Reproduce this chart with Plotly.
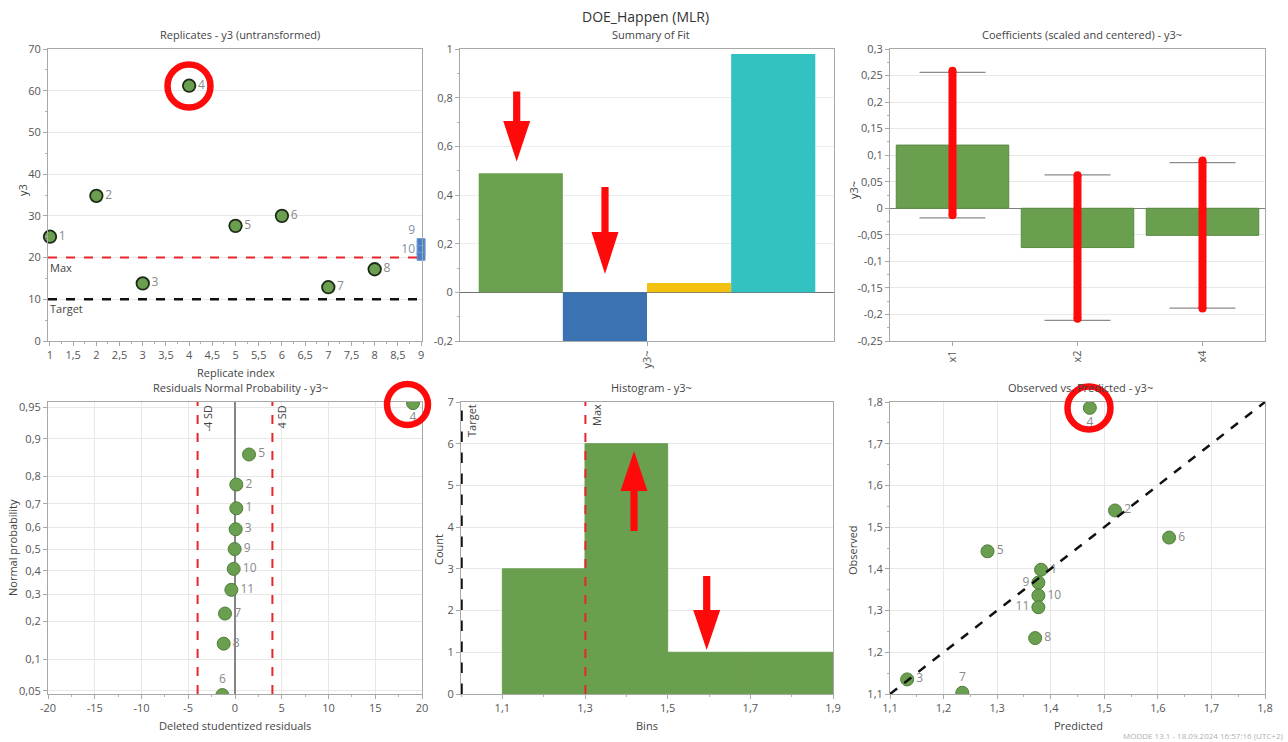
import plotly.graph_objects as go
from statistics import NormalDist

W, H = 1288, 742

# ---------------- data ----------------
# Replicates - y3 (untransformed)
rep_index = [1, 2, 3, 4, 5, 6, 7, 8]
rep_y3 = [25.0, 34.8, 13.8, 61.2, 27.6, 30.0, 12.9, 17.2]
rep_text = ["1", "2", "3", "4", "5", "6", "7", "8"]
rep_center_index = [9, 9, 9]
rep_center_y3 = [23.6, 21.9, 20.3]
rep_center_text = ["9", "10", ""]
rep_center_pos = ["top left", "middle left", "middle left"]
y3_max_level = 20
y3_target_level = 10
rep_x_ticks = [1, 1.5, 2, 2.5, 3, 3.5, 4, 4.5, 5, 5.5, 6, 6.5, 7, 7.5, 8, 8.5, 9]
rep_x_ticktext = ["1", "1,5", "2", "2,5", "3", "3,5", "4", "4,5", "5", "5,5",
                  "6", "6,5", "7", "7,5", "8", "8,5", "9"]
rep_y_ticks = [0, 10, 20, 30, 40, 50, 60, 70]
rep_y_ticktext = ["0", "10", "20", "30", "40", "50", "60", "70"]

# Summary of Fit
fit_category = ["y3~"]
fit_names = ["R2", "Q2", "Model validity", "Reproducibility"]
fit_values = [0.489, -0.2, 0.038, 0.979]
fit_colors = ["#6aa050", "#3a72b2", "#f3c211", "#33c2c2"]
fit_y_ticks = [-0.2, 0, 0.2, 0.4, 0.6, 0.8, 1]
fit_y_ticktext = ["-0,2", "0", "0,2", "0,4", "0,6", "0,8", "1"]

# Coefficients (scaled and centered)
coef_terms = ["x1", "x2", "x4"]
coef_values = [0.119, -0.074, -0.051]
coef_ci = [0.137, 0.137, 0.137]
coef_mark_low = [-0.013, -0.208, -0.189]
coef_mark_high = [0.259, 0.062, 0.090]
coef_y_ticks = [-0.25, -0.2, -0.15, -0.1, -0.05, 0, 0.05, 0.1, 0.15, 0.2, 0.25, 0.3]
coef_y_ticktext = ["-0,25", "-0,2", "-0,15", "-0,1", "-0,05", "0", "0,05", "0,1",
                   "0,15", "0,2", "0,25", "0,3"]

# Residuals normal probability
np_text = ["6", "8", "7", "11", "10", "9", "3", "1", "2", "5", "4"]
np_resid = [-1.35, -1.21, -1.07, -0.39, -0.14, -0.04, 0.07, 0.14, 0.14, 1.5, 19.04]
np_prob = [0.045, 0.136, 0.227, 0.318, 0.409, 0.5, 0.591, 0.682, 0.773, 0.864, 0.955]
np_textpos = ["top center", "middle right", "middle right", "middle right", "middle right",
              "middle right", "middle right", "middle right", "middle right", "middle right",
              "bottom center"]
sd_low, sd_high = -4, 4
np_x_ticks = [-20, -15, -10, -5, 0, 5, 10, 15, 20]
np_x_ticktext = ["-20", "-15", "-10", "-5", "0", "5", "10", "15", "20"]
np_p_ticks = [0.05, 0.1, 0.2, 0.3, 0.4, 0.5, 0.6, 0.7, 0.8, 0.9, 0.95]
np_p_ticktext = ["0,05", "0,1", "0,2", "0,3", "0,4", "0,5", "0,6", "0,7", "0,8", "0,9", "0,95"]

# Histogram
hist_bin_start = [1.1, 1.3, 1.5, 1.7]
hist_bin_width = [0.2, 0.2, 0.2, 0.2]
hist_counts = [3, 6, 1, 1]
hist_target = 1.0
hist_max = 1.301
hist_x_ticks = [1.1, 1.3, 1.5, 1.7, 1.9]
hist_x_ticktext = ["1,1", "1,3", "1,5", "1,7", "1,9"]
hist_y_ticks = [0, 1, 2, 3, 4, 5, 6, 7]

# Observed vs Predicted
op_text = ["1", "2", "3", "4", "5", "6", "7", "8", "9", "10", "11"]
op_pred = [1.382, 1.520, 1.132, 1.473, 1.282, 1.621, 1.235, 1.371, 1.377, 1.377, 1.377]
op_obs = [1.398, 1.540, 1.135, 1.786, 1.442, 1.475, 1.103, 1.234, 1.367, 1.336, 1.308]
op_textpos = ["middle right", "middle right", "middle right", "bottom center", "middle right",
              "middle right", "top center", "middle right", "middle left", "middle right",
              "middle left"]
op_ticks = [1.1, 1.2, 1.3, 1.4, 1.5, 1.6, 1.7, 1.8]
op_ticktext = ["1,1", "1,2", "1,3", "1,4", "1,5", "1,6", "1,7", "1,8"]

# ---------------- helpers ----------------
FONT = "Segoe UI, Open Sans, sans-serif"
GREEN = "#6a9f4f"
LABEL_GRAY = "#8a8a8a"
RED = "#ff0a0a"


def px(x):
    return x / W


def py(y):
    return 1 - y / H


def dom_x(a, b):
    return [px(a), px(b)]


def dom_y(top, bottom):
    return [py(bottom), py(top)]


def axis(**kw):
    base = dict(showline=True, linecolor="#a8a8a8", linewidth=1, mirror=True,
                ticks="outside", ticklen=4, tickcolor="#a8a8a8",
                tickfont=dict(family=FONT, size=11, color="#555555"),
                showgrid=True, gridcolor="#e8e8e8", gridwidth=1,
                zeroline=False, automargin=False, fixedrange=True)
    base.update(kw)
    return base


ndist = NormalDist()
probit = [ndist.inv_cdf(p) for p in np_prob]
probit_ticks = [ndist.inv_cdf(p) for p in np_p_ticks]

fig = go.Figure()

# ---- Panel 1: replicates ----
fig.add_trace(go.Scatter(
    x=rep_index, y=rep_y3, mode="markers+text", text=rep_text, textposition="middle right",
    textfont=dict(family=FONT, size=12, color=LABEL_GRAY),
    marker=dict(size=12.5, color=GREEN, line=dict(color="#1e2a18", width=1.8)),
    cliponaxis=False, xaxis="x", yaxis="y", showlegend=False))
fig.add_trace(go.Scatter(
    x=rep_center_index, y=rep_center_y3, mode="markers+text", text=rep_center_text,
    textposition=rep_center_pos, textfont=dict(family=FONT, size=12, color="#7f8fa6"),
    marker=dict(size=8, symbol="square", color="#4a7fc4", line=dict(color="#6e9bd6", width=1)),
    cliponaxis=False, xaxis="x", yaxis="y", showlegend=False))

# ---- Panel 2: summary of fit ----
for name, val, col in zip(fit_names, fit_values, fit_colors):
    fig.add_trace(go.Bar(x=fit_category, y=[val], name=name, marker=dict(color=col, line=dict(width=0)),
                         xaxis="x2", yaxis="y2", showlegend=False))

# ---- Panel 3: coefficients ----
fig.add_trace(go.Bar(
    x=coef_terms, y=coef_values, marker=dict(color=GREEN, line=dict(color="#5a8a42", width=1)),
    error_y=dict(type="data", array=coef_ci, color="#8c8c8c", thickness=1.2, width=33),
    xaxis="x3", yaxis="y3", showlegend=False))
for t, lo, hi in zip(coef_terms, coef_mark_low, coef_mark_high):
    fig.add_trace(go.Scatter(
        x=[t, t], y=[lo, hi], mode="lines+markers",
        line=dict(color=RED, width=8), marker=dict(size=8, color=RED),
        xaxis="x3", yaxis="y3", showlegend=False, cliponaxis=False))

# ---- Panel 4: normal probability ----
fig.add_trace(go.Scatter(
    x=np_resid, y=probit, mode="markers+text", text=np_text, textposition=np_textpos,
    textfont=dict(family=FONT, size=12, color=LABEL_GRAY),
    marker=dict(size=13, color=GREEN, line=dict(color="#4f7d3a", width=1)),
    cliponaxis=True, xaxis="x4", yaxis="y4", showlegend=False))

# ---- Panel 5: histogram ----
fig.add_trace(go.Bar(
    x=hist_bin_start, y=hist_counts, width=hist_bin_width, offset=0,
    marker=dict(color=GREEN, line=dict(color=GREEN, width=1)), xaxis="x5", yaxis="y5", showlegend=False))

# ---- Panel 6: observed vs predicted ----
fig.add_trace(go.Scatter(
    x=op_pred, y=op_obs, mode="markers+text", text=op_text, textposition=op_textpos,
    textfont=dict(family=FONT, size=12, color=LABEL_GRAY),
    marker=dict(size=13, color=GREEN, line=dict(color="#4f7d3a", width=1)),
    cliponaxis=True, xaxis="x6", yaxis="y6", showlegend=False))

TOP = (49, 341)
BOT = (402, 694)

layout = dict(
    width=W, height=H, margin=dict(l=0, r=0, t=0, b=0),
    paper_bgcolor="white", plot_bgcolor="white",
    font=dict(family=FONT, size=11, color="#444444"),
    barmode="group", bargap=0.1, bargroupgap=0, separators=", ",
    xaxis=axis(domain=dom_x(48, 422), anchor="y", range=[0.957, 9.02], showgrid=False,
               tickmode="array", tickvals=rep_x_ticks, ticktext=rep_x_ticktext,
               minor=dict(dtick=0.25, tick0=1, ticks="outside", ticklen=2, tickcolor="#b0b0b0", showgrid=False)),
    yaxis=axis(domain=dom_y(*TOP), anchor="x", range=[0, 70],
               tickmode="array", tickvals=rep_y_ticks, ticktext=rep_y_ticktext,
               minor=dict(dtick=5, tick0=0, ticks="outside", ticklen=2, tickcolor="#b0b0b0", showgrid=False)),
    xaxis2=axis(domain=dom_x(460, 834), anchor="y2", range=[-0.5, 0.5], showgrid=False,
                tickangle=-90, type="category"),
    yaxis2=axis(domain=dom_y(*TOP), anchor="x2", range=[-0.2, 1.0], gridcolor="#ececec",
                tickmode="array", tickvals=fit_y_ticks, ticktext=fit_y_ticktext,
                zeroline=True, zerolinecolor="#707070", zerolinewidth=1,
                minor=dict(dtick=0.1, tick0=0, ticks="outside", ticklen=2, tickcolor="#b0b0b0", showgrid=False)),
    xaxis3=axis(domain=dom_x(890, 1265), anchor="y3", range=[-0.5, 2.5], showgrid=False,
                tickangle=-90, type="category"),
    yaxis3=axis(domain=dom_y(*TOP), anchor="x3", range=[-0.25, 0.3],
                tickmode="array", tickvals=coef_y_ticks, ticktext=coef_y_ticktext,
                zeroline=True, zerolinecolor="#808080", zerolinewidth=1,
                minor=dict(dtick=0.025, tick0=0, ticks="outside", ticklen=2, tickcolor="#b0b0b0", showgrid=False)),
    xaxis4=axis(domain=dom_x(48, 422), anchor="y4", range=[-20, 20],
                tickmode="array", tickvals=np_x_ticks, ticktext=np_x_ticktext,
                zeroline=True, zerolinecolor="#858585", zerolinewidth=1.5,
                minor=dict(dtick=2.5, tick0=0, ticks="outside", ticklen=2, tickcolor="#b0b0b0", showgrid=False)),
    yaxis4=axis(domain=dom_y(*BOT), anchor="x4", range=[-1.683, 1.708],
                tickmode="array", tickvals=probit_ticks, ticktext=np_p_ticktext),
    xaxis5=axis(domain=dom_x(461, 833), anchor="y5", range=[1.0, 1.9], showgrid=False,
                tickmode="array", tickvals=hist_x_ticks, ticktext=hist_x_ticktext,
                minor=dict(dtick=0.1, tick0=1.0, ticks="outside", ticklen=2, tickcolor="#b0b0b0", showgrid=False)),
    yaxis5=axis(domain=dom_y(*BOT), anchor="x5", range=[0, 7],
                tickmode="array", tickvals=hist_y_ticks),
    xaxis6=axis(domain=dom_x(890, 1265), anchor="y6", range=[1.1, 1.8],
                tickmode="array", tickvals=op_ticks, ticktext=op_ticktext,
                minor=dict(dtick=0.05, tick0=1.1, ticks="outside", ticklen=2, tickcolor="#b0b0b0", showgrid=False)),
    yaxis6=axis(domain=dom_y(*BOT), anchor="x6", range=[1.1, 1.8],
                tickmode="array", tickvals=op_ticks, ticktext=op_ticktext,
                minor=dict(dtick=0.05, tick0=1.1, ticks="outside", ticklen=2, tickcolor="#b0b0b0", showgrid=False)),
)
fig.update_layout(**layout)

shapes = []
# reference lines
shapes.append(dict(type="line", xref="x domain", yref="y", x0=0, x1=1, y0=y3_max_level, y1=y3_max_level,
                   line=dict(color="#e8262a", width=2, dash="dash")))
shapes.append(dict(type="line", xref="x domain", yref="y", x0=0, x1=1, y0=y3_target_level, y1=y3_target_level,
                   line=dict(color="#111111", width=2.5, dash="dash")))
for v in (sd_low, sd_high):
    shapes.append(dict(type="line", xref="x4", yref="y4 domain", x0=v, x1=v, y0=0, y1=1,
                       line=dict(color="#e8262a", width=2, dash="dash")))
shapes.append(dict(type="line", xref="x5", yref="y5 domain", x0=hist_target, x1=hist_target, y0=0, y1=1,
                   line=dict(color="#111111", width=3.5, dash="dash")))
shapes.append(dict(type="line", xref="x5", yref="y5 domain", x0=hist_max, x1=hist_max, y0=0, y1=1,
                   line=dict(color="#e8262a", width=2, dash="dash")))
shapes.append(dict(type="line", xref="x6", yref="y6", x0=op_ticks[0], y0=op_ticks[0], x1=op_ticks[-1], y1=op_ticks[-1],
                   line=dict(color="#111111", width=2.5, dash="dash")))


# red highlight circles (overlay decorations, pixel placed)
def ring(cx, cy, r):
    return dict(type="circle", xref="paper", yref="paper",
                x0=px(cx - r), x1=px(cx + r), y0=py(cy + r), y1=py(cy - r),
                line=dict(color=RED, width=6.5), layer="above")


shapes += [ring(189, 86, 21.5), ring(407.5, 404.5, 20.5), ring(1089, 408, 21.5)]


# red block arrows (overlay decorations, pixel placed)
def arrow(cx, tail, base, tip, shaft=3.6, head=13.5):
    pts = [(cx - shaft, tail), (cx + shaft, tail), (cx + shaft, base), (cx + head, base),
           (cx, tip), (cx - head, base), (cx - shaft, base)]
    path = "M " + " L ".join(f"{px(a):.5f},{py(b):.5f}" for a, b in pts) + " Z"
    return dict(type="path", xref="paper", yref="paper", path=path,
                fillcolor=RED, line=dict(width=0), layer="above")


shapes += [arrow(516.7, 91.5, 121, 161.5), arrow(605, 187, 232, 274),
           arrow(634, 531, 491, 451), arrow(706.7, 576, 610, 650)]
fig.update_layout(shapes=shapes)

ann = []


def text(x, y, s, size=11, color="#444444", angle=0, xa="center", ya="middle", **kw):
    d = dict(x=px(x), y=py(y), xref="paper", yref="paper", text=s, showarrow=False,
             font=dict(family=FONT, size=size, color=color), textangle=angle,
             xanchor=xa, yanchor=ya)
    d.update(kw)
    ann.append(d)


text(645, 16, "DOE_Happen (MLR)", size=14, color="#333333")
text(240, 34, "Replicates - y3 (untransformed)")
text(651, 34, "Summary of Fit")
text(1082, 34, "Coefficients (scaled and centered) - y3~")
text(240, 387, "Residuals Normal Probability - y3~")
text(651, 387, "Histogram - y3~")
text(1080, 387, "Observed vs. Predicted - y3~")
# axis titles
text(236, 372, "Replicate index")
text(22, 190, "y3", angle=-90)
text(853, 190, "y3~", angle=-90)
text(12, 548, "Normal probability", angle=-90)
text(235, 725, "Deleted studentized residuals")
text(438, 550, "Count", angle=-90)
text(647, 725, "Bins")
text(852, 550, "Observed", angle=-90)
text(1078, 725, "Predicted")
text(1285, 735, "MODDE 13.1 - 18.09.2024 16:57:16 (UTC+2)", size=8, color="#b0b0b0", xa="right")

# reference line labels
ann.append(dict(x=0, y=y3_max_level, xref="x domain", yref="y", text="Max", showarrow=False,
                xanchor="left", yanchor="top", font=dict(family=FONT, size=11, color="#444444")))
ann.append(dict(x=0, y=y3_target_level, xref="x domain", yref="y", text="Target", showarrow=False,
                xanchor="left", yanchor="top", font=dict(family=FONT, size=11, color="#444444")))
ann.append(dict(x=sd_low, y=1, xref="x4", yref="y4 domain", text="-4 SD", showarrow=False, textangle=-90,
                xanchor="left", yanchor="top", xshift=0, yshift=-1, font=dict(family=FONT, size=11, color="#444444")))
ann.append(dict(x=sd_high, y=1, xref="x4", yref="y4 domain", text="4 SD", showarrow=False, textangle=-90,
                xanchor="left", yanchor="top", xshift=0, yshift=-1, font=dict(family=FONT, size=11, color="#444444")))
ann.append(dict(x=hist_target, y=1, xref="x5", yref="y5 domain", text="Target", showarrow=False, textangle=-90,
                xanchor="left", yanchor="top", xshift=1, yshift=0, font=dict(family=FONT, size=11, color="#444444")))
ann.append(dict(x=hist_max, y=1, xref="x5", yref="y5 domain", text="Max", showarrow=False, textangle=-90,
                xanchor="left", yanchor="top", xshift=1, yshift=0, font=dict(family=FONT, size=11, color="#444444")))
fig.update_layout(annotations=ann)

fig.write_html("out.html", config={"displayModeBar": False},
               post_script="document.body.style.margin='0';document.body.style.overflow='hidden';")
